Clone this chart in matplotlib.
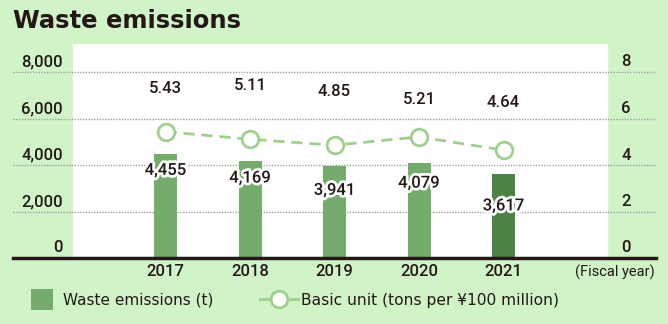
import matplotlib
matplotlib.use("Agg")
import matplotlib.pyplot as plt
import matplotlib.patheffects as pe
from matplotlib.transforms import blended_transform_factory, offset_copy
from matplotlib.lines import Line2D
from matplotlib.patches import Rectangle

years = ["2017", "2018", "2019", "2020", "2021"]
emissions = [4455, 4169, 3941, 4079, 3617]
emission_labels = ["4,455", "4,169", "3,941", "4,079", "3,617"]
basic_unit = [5.43, 5.11, 4.85, 5.21, 4.64]
basic_unit_labels = ["5.43", "5.11", "4.85", "5.21", "4.64"]
left_ticks = [0, 2000, 4000, 6000, 8000]
left_tick_labels = ["0", "2,000", "4,000", "6,000", "8,000"]
right_ticks = [0, 2, 4, 6, 8]
right_tick_labels = ["0", "2", "4", "6", "8"]
legend_labels = ["Waste emissions (t)", "Basic unit (tons per ¥100 million)"]

# label placement (positions, not data)
bar_label_drop = [16, 17, 24, 20, 32]        # px below bar top
unit_label_y = [7.31, 7.44, 7.18, 6.80, 6.67]  # right-axis units

BG = "#d0f4c8"
BAR = "#74ad6b"
BAR_LAST = "#4a8344"
LINE = "#9fd08d"
TXT = "#231815"
NUMF = ["Roboto", "DejaVu Sans"]
NUMS = 12
NUMW = "medium"

W, H = 668, 324
fig = plt.figure(figsize=(W / 100, H / 100), dpi=100)
fig.patch.set_facecolor(BG)

ax = fig.add_axes([13 / W, (H - 258) / H, 643 / W, 214 / H])
ax.set_facecolor(BG)
for s in ax.spines.values():
    s.set_visible(False)

x = list(range(len(years)))
sp = 84.5
x0 = 165.5
ax.set_xlim((13 - x0) / sp, (656 - x0) / sp)
ymax = 8000 * 214 / 186
ax.set_ylim(0, ymax)

# white plot area
ax.axvspan((73 - x0) / sp, (607 - x0) / sp, color="white", zorder=0)

# gridlines
for v in left_ticks[1:]:
    ax.axhline(v, color="#a0a0a0", lw=1.0, ls=(0, (1, 1)), zorder=1)
ax.axhline(0, color=TXT, lw=2.5, zorder=5, clip_on=False)

ax.set_xticks([])
ax.set_yticks([])

colors = [BAR] * (len(years) - 1) + [BAR_LAST]
ax.bar(x, emissions, width=23 / sp, color=colors, zorder=2)

px_per_unit = 186 / 8000
for xi, v, lab, d in zip(x, emissions, emission_labels, bar_label_drop):
    ax.text(xi, v - d / px_per_unit, lab, ha="center", va="center",
            fontsize=NUMS, fontweight=NUMW, color=TXT, zorder=6, family=NUMF,
            path_effects=[pe.withStroke(linewidth=4, foreground="white")])

ax2 = ax.twinx()
ax2.set_ylim(0, ymax / 1000)
for s in ax2.spines.values():
    s.set_visible(False)
ax2.set_yticks([])
ax2.plot(x, basic_unit, color=LINE, lw=2, ls=(0, (4, 2.5)), marker="o",
         markersize=12, markerfacecolor="white", markeredgecolor=LINE,
         markeredgewidth=2, zorder=4)
for xi, yv, lab in zip(x, unit_label_y, basic_unit_labels):
    ax2.text(xi, yv, lab, ha="center", va="center", fontsize=NUMS,
             fontweight=NUMW, color=TXT, family=NUMF)

# y tick labels
tl = blended_transform_factory(ax.transAxes, ax.transData)
tl = offset_copy(tl, fig=fig, y=10, units="dots")
for v, lab in zip(left_ticks, left_tick_labels):
    ax.text((63 - 13) / 643, v, lab, transform=tl, ha="right", va="center",
            fontsize=NUMS, fontweight=NUMW, color=TXT, family=NUMF)
tr = blended_transform_factory(ax2.transAxes, ax2.transData)
tr = offset_copy(tr, fig=fig, y=10, units="dots")
for v, lab in zip(right_ticks, right_tick_labels):
    ax2.text((621 - 13) / 643, v, lab, transform=tr, ha="left", va="center",
             fontsize=NUMS, fontweight=NUMW, color=TXT, family=NUMF)

# x tick labels
tx = blended_transform_factory(ax.transData, ax.transAxes)
for xi, lab in zip(x, years):
    ax.text(xi, -14 / 214, lab, transform=tx, ha="center", va="center",
            fontsize=NUMS, fontweight=NUMW, color=TXT, family=NUMF)
ax.text((655 - 13) / 643, -14 / 214, "(Fiscal year)", transform=ax.transAxes,
        ha="right", va="center", fontsize=10.5, color=TXT, family=NUMF)

fig.text(13 / W, 1 - 21 / H, "Waste emissions", ha="left", va="center",
         fontsize=17.5, fontweight="bold", color=TXT)

# legend (manual)
fig.patches.append(Rectangle((31 / W, 1 - 310 / H), 22 / W, 21 / H,
                             transform=fig.transFigure, facecolor=BAR,
                             edgecolor="none"))
fig.text(63 / W, 1 - 300 / H, legend_labels[0], ha="left", va="center",
         fontsize=11, color=TXT)
fig.add_artist(Line2D([260 / W, 298 / W], [1 - 299 / H, 1 - 299 / H],
                      transform=fig.transFigure, color=LINE, lw=2))
fig.add_artist(Line2D([279 / W], [1 - 299 / H], transform=fig.transFigure,
                      marker="o", markersize=12, markerfacecolor="white",
                      markeredgecolor=LINE, markeredgewidth=2, ls="none"))
fig.text(301 / W, 1 - 300 / H, legend_labels[1], ha="left", va="center",
         fontsize=11.2, color=TXT)

fig.savefig("out.png", dpi=100, facecolor=BG)
